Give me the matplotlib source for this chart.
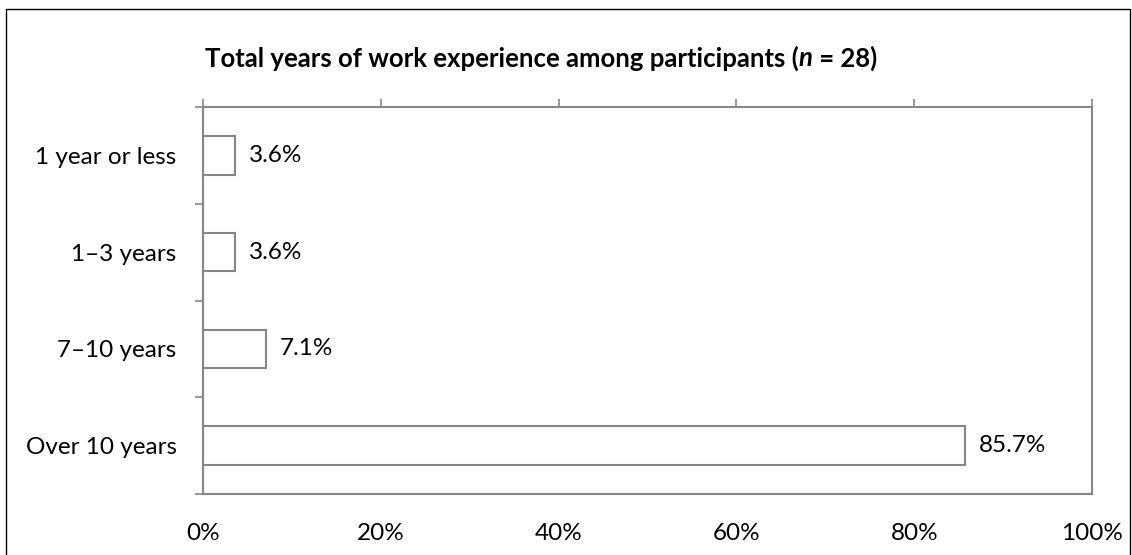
import matplotlib.pyplot as plt
from matplotlib.patches import Rectangle
from matplotlib.ticker import FixedLocator, PercentFormatter

plt.rcParams['font.family'] = ['Lato', 'DejaVu Sans']

categories = ['1 year or less', '1\u20133 years', '7\u201310 years', 'Over 10 years']
values = [3.6, 3.6, 7.1, 85.7]
xticks = [0, 20, 40, 60, 80, 100]

W, H = 1132, 555
fig = plt.figure(figsize=(W / 100, H / 100), dpi=100)
ax = fig.add_axes([203 / W, 61 / H, 889 / W, 387 / H])

gray = '#868686'
fs = 17.5
pos = list(range(len(categories)))
ax.barh(pos, values, height=0.4, color='white', edgecolor=gray, linewidth=1.5)
ax.set_ylim(len(categories) - 0.5, -0.5)
ax.set_xlim(0, 100)

for p, v in zip(pos, values):
    ax.annotate(f'{v:.1f}%', (v, p), xytext=(10, 0), textcoords='offset points',
                va='center', ha='left', fontsize=fs)

for s in ax.spines.values():
    s.set_color(gray)
    s.set_linewidth(1.5)

ax.set_xticks(xticks)
ax.xaxis.set_major_formatter(PercentFormatter(decimals=0))
ax.tick_params(axis='x', top=True, bottom=False, labeltop=False, labelbottom=True,
               direction='out', length=6, width=1.2, color=gray, pad=15, labelsize=fs)
ax.set_yticks(pos)
ax.set_yticklabels(categories)
ax.yaxis.set_minor_locator(FixedLocator([i - 0.5 for i in range(len(categories) + 1)]))
ax.tick_params(axis='y', which='major', length=0, pad=19, labelsize=fs)
ax.tick_params(axis='y', which='minor', length=6, width=1.2, color=gray, direction='out')

# title in pieces so only n is italic
tparts = [('Total years of work experience among participants (', 'normal'),
          ('n', 'italic'), (' = 28)', 'normal')]
fig.canvas.draw()
r = fig.canvas.get_renderer()
x = 205
for txt, style in tparts:
    t = fig.text(x / W, 1 - 58 / H, txt, fontsize=18.5, fontweight='bold', style=style,
                 ha='left', va='center')
    x += t.get_window_extent(renderer=r).width

fig.patches.append(Rectangle((6 / W, -0.01), (W - 8) / W, 1 - 9 / H + 0.01,
                             transform=fig.transFigure, fill=False,
                             edgecolor='black', linewidth=1))

fig.savefig('out.png', dpi=100)
